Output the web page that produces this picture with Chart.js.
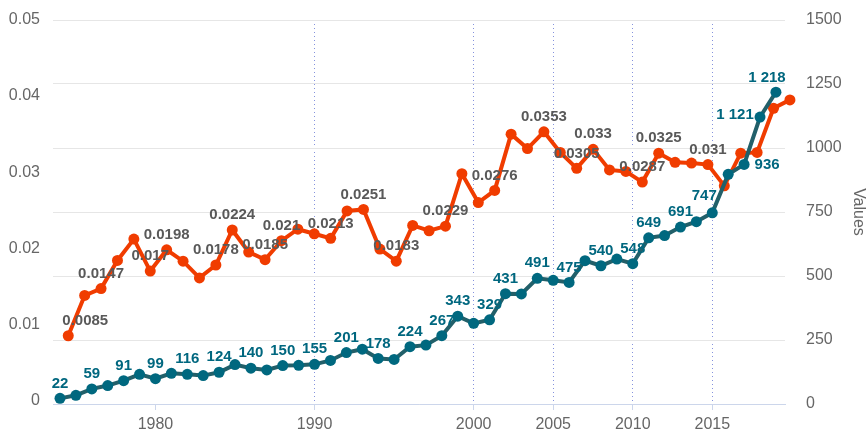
<!DOCTYPE html>
<html>
<head>
<meta charset="utf-8">
<script src="https://cdn.jsdelivr.net/npm/chart.js@4"></script>
<style>
  html, body { margin: 0; padding: 0; background: #fff; }
  #wrap { width: 868px; height: 430px; }
</style>
</head>
<body>
<div id="wrap"><canvas id="chart" width="868" height="430"></canvas></div>
<script>
// teal series (right axis), one point a year
const tealYears = [1974, 1975, 1976, 1977, 1978, 1979, 1980, 1981, 1982, 1983, 1984, 1985,
  1986, 1987, 1988, 1989, 1990, 1991, 1992, 1993, 1994, 1995, 1996, 1997, 1998, 1999,
  2000, 2001, 2002, 2003, 2004, 2005, 2006, 2007, 2008, 2009, 2010, 2011, 2012, 2013,
  2014, 2015, 2016, 2017, 2018, 2019];
const tealValues = [22, 34, 59, 72, 91, 116, 99, 120, 116, 111, 124, 154,
  140, 133, 150, 151, 155, 170, 201, 214, 178, 174, 224, 230, 267, 343,
  315, 329, 431, 430, 491, 483, 475, 560, 540, 566, 548, 649, 658, 691,
  712, 747, 897, 936, 1121, 1218];
const tealLabelled = [1974, 1976, 1978, 1980, 1982, 1984, 1986, 1988, 1990, 1992, 1994,
  1996, 1998, 1999, 2001, 2002, 2004, 2006, 2008, 2010, 2011, 2013, 2015, 2017, 2018, 2019];

// orange series (left axis)
const orangeYears = [1975, 1976, 1977, 1978, 1979, 1980, 1981, 1982, 1983, 1984, 1985,
  1986, 1987, 1988, 1989, 1990, 1991, 1992, 1993, 1994, 1995, 1996, 1997, 1998, 1999,
  2000, 2001, 2002, 2003, 2004, 2005, 2006, 2007, 2008, 2009, 2010, 2011, 2012, 2013,
  2014, 2015, 2016, 2017, 2018, 2019];
const orangeValues = [0.0085, 0.0138, 0.0147, 0.0184, 0.0212, 0.017, 0.0198, 0.0183, 0.0161, 0.0178, 0.0224,
  0.0195, 0.0185, 0.021, 0.0225, 0.0219, 0.0213, 0.0249, 0.0251, 0.0199, 0.0183, 0.023,
  0.0223, 0.0229, 0.0298, 0.026, 0.0276, 0.035, 0.0331, 0.0353, 0.0326, 0.0305, 0.033,
  0.0303, 0.0301, 0.0287, 0.0325, 0.0313, 0.0312, 0.031, 0.0282, 0.0325, 0.0326, 0.0384, 0.0395];
const orangeLabelled = [1975, 1977, 1980, 1981, 1984, 1985, 1987, 1988, 1991, 1993, 1995,
  1998, 2001, 2004, 2006, 2007, 2010, 2011, 2014];

// axis ticks
const xTicks = [1980, 1990, 2000, 2005, 2010, 2015];
const leftTicks = [0, 0.01, 0.02, 0.03, 0.04, 0.05];
const rightTicks = [0, 250, 500, 750, 1000, 1250, 1500];

const FONT = '"Liberation Sans", Arial, Helvetica, sans-serif';
Chart.defaults.font.family = FONT;
Chart.defaults.font.size = 16;
Chart.defaults.color = '#666666';

// label nudges where the labels were moved off the default spot
const tealShift = { 2015: [-8, -17], 2017: [23, 0], 2018: [-25, -2], 2019: [-9, -14] };
const orangeShift = { 1975: [17, -15] };

function spaced(n) {
  return String(n).replace(/\B(?=(\d{3})+(?!\d))/g, ' ');
}

const valueLabels = {
  id: 'valueLabels',
  afterDatasetsDraw(chart) {
    const ctx = chart.ctx;
    ctx.save();
    ctx.font = 'bold 15px ' + FONT;
    ctx.textAlign = 'center';
    ctx.textBaseline = 'middle';
    chart.data.datasets.forEach((ds, di) => {
      const meta = chart.getDatasetMeta(di);
      ds.data.forEach((pt, i) => {
        if (!ds.labelled.includes(pt.x)) return;
        const el = meta.data[i];
        const s = ds.shift[pt.x] || [0, -15];
        ctx.fillStyle = ds.labelColor;
        ctx.fillText(ds.fmt(pt.y), el.x + s[0], el.y + s[1]);
      });
    });
    ctx.restore();
  }
};

const ctx = document.getElementById('chart').getContext('2d');
new Chart(ctx, {
  type: 'line',
  data: {
    datasets: [
      {
        label: 'Values',
        data: tealYears.map((y, i) => ({ x: y, y: tealValues[i] })),
        xAxisID: 'x',
        yAxisID: 'y1',
        borderColor: '#22606a',
        borderWidth: 4,
        pointBackgroundColor: '#00687f',
        pointBorderWidth: 0,
        pointRadius: 5.5,
        tension: 0,
        clip: false,
        labelled: tealLabelled,
        shift: tealShift,
        labelColor: '#00677f',
        fmt: spaced
      },
      {
        label: 'Share',
        data: orangeYears.map((y, i) => ({ x: y, y: orangeValues[i] })),
        xAxisID: 'x2',
        yAxisID: 'y',
        borderColor: '#f03c00',
        borderWidth: 4,
        pointBackgroundColor: '#f03c00',
        pointBorderWidth: 0,
        pointRadius: 5.5,
        tension: 0,
        clip: false,
        labelled: orangeLabelled,
        shift: orangeShift,
        labelColor: '#595959',
        fmt: (v) => String(v)
      }
    ]
  },
  options: {
    responsive: false,
    animation: false,
    events: [],
    layout: { padding: { top: 20, left: 0, right: 0, bottom: 0 } },
    plugins: {
      legend: { display: false },
      tooltip: { enabled: false }
    },
    scales: {
      x: {
        type: 'linear',
        position: 'bottom',
        min: 1973.56,
        max: 2019.57,
        afterBuildTicks: (axis) => { axis.ticks = xTicks.map((v) => ({ value: v })); },
        afterFit: (axis) => { axis.height = 26; },
        ticks: { padding: 5, callback: (v) => String(v), maxRotation: 0 },
        grid: {
          color: (c) => (c.tick && c.tick.value === 1980 ? 'rgba(0,0,0,0)' : '#8593dd'),
          lineWidth: 1,
          tickColor: '#ccd6eb',
          tickLength: 6,
          tickBorderDash: []
        },
        border: { color: '#ccd6eb', width: 1, dash: [1, 3] }
      },
      x2: {
        type: 'linear',
        display: false,
        min: 1974.07,
        max: 2018.7
      },
      y: {
        type: 'linear',
        position: 'left',
        min: -0.00047,
        max: 0.05,
        afterBuildTicks: (axis) => { axis.ticks = leftTicks.map((v) => ({ value: v })); },
        afterFit: (axis) => { axis.width = 53; },
        ticks: { padding: 0, callback: (v) => String(+v.toFixed(4)) },
        // invisible tick marks just push the labels away from the plot
        grid: {
          color: 'rgba(0,0,0,0)',
          drawOnChartArea: false,
          drawTicks: true,
          tickLength: 13,
          tickColor: 'rgba(0,0,0,0)'
        },
        border: { display: false }
      },
      y1: {
        type: 'linear',
        position: 'right',
        min: 0,
        max: 1500,
        afterBuildTicks: (axis) => { axis.ticks = rightTicks.map((v) => ({ value: v })); },
        afterFit: (axis) => { axis.width = 83; },
        ticks: { padding: 0, callback: (v) => String(v) },
        grid: {
          color: '#e6e6e6',
          lineWidth: 1,
          drawTicks: true,
          tickLength: 21,
          tickColor: 'rgba(0,0,0,0)'
        },
        border: { display: false },
        title: {
          display: true,
          text: 'Values',
          color: '#666666',
          font: { size: 16 },
          padding: 0
        }
      }
    }
  },
  plugins: [valueLabels]
});
</script>
</body>
</html>
